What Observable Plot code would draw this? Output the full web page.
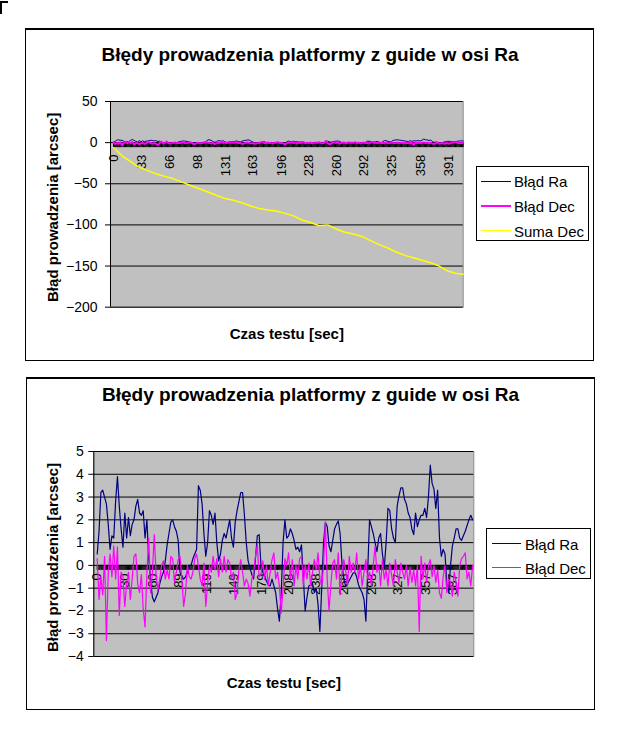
<!DOCTYPE html>
<html>
<head>
<meta charset="utf-8">
<script src="https://cdn.jsdelivr.net/npm/d3@7"></script>
<script src="https://cdn.jsdelivr.net/npm/@observablehq/plot@0.6"></script>
<style>
  body { margin: 0; background: #fff; font-family: "Liberation Sans", Arial, sans-serif; }
  #page { position: relative; width: 626px; height: 733px; overflow: hidden; background: #fff; }
  .box { position: absolute; border: 1px solid #000; border-top-width: 2px; box-sizing: border-box; background: #fff; }
  .title { position: absolute; font-weight: bold; font-size: 19px; white-space: nowrap; transform: translate(-50%, -50%); color: #000; }
  .legend { position: absolute; border: 1px solid #000; background: #fff; box-sizing: border-box; z-index: 3; }
  .legend .ln { position: absolute; height: 0; }
  .legend .tx { position: absolute; font-size: 15px; white-space: nowrap; transform: translateY(-50%); color: #000; }
  .plotwrap { position: absolute; z-index: 2; }
  .corner { position: absolute; left: 0; top: 1px; width: 6px; height: 11px; border-left: 2px solid #000; border-top: 2px solid #000; }
</style>
</head>
<body>
<div id="page"></div>
<script>
// ---------------- data ----------------
const categories = d3.range(0, 409);          // category positions (seconds) for the dense tick band
const time = d3.range(0, 409, 2);              // sample times of the error series [sec]

const bladRa = [
  0.5, 1.5, 3.2, 3.3, 3.0, 2.7, 1.8, 0.7, 1.3, 1.2,
  2.8, 3.9, 2.6, 1.6, 0.8, 2.3, 1.2, 2.1, 1.3, 1.8,
  2.0, 2.6, 2.9, 2.3, 2.2, 2.4, 1.2, 2.0, 0.3, -0.6,
  -1.4, -1.6, -1.4, -1.2, -0.8, -0.5, -0.3, 0.2, 0.9, 1.4,
  1.9, 2.0, 1.7, 1.5, 1.1, -0.3, -0.5, -0.6, -0.5, -0.3,
  0.0, 0.0, 0.3, 0.5, 0.7, 3.5, 3.3, 2.7, 1.4, 0.4,
  1.0, 2.4, 2.2, 1.8, 2.3, 1.0, 0.2, 0.5, 1.1, 1.4,
  1.2, 1.6, 2.0, 1.2, 0.8, 1.9, 2.4, 2.8, 3.2, 3.2,
  2.2, 1.0, 0.2, -0.1, -0.4, -0.6, 0.3, 1.3, 1.35,
  0.0, -0.3, -0.5, -0.7, -0.85, -0.9, -0.6, -0.9, -1.2, -1.9,
  -2.45, -1.2, 1.0, 2.0, 1.2, 1.3, 1.6, 1.4, 1.1, 0.7,
  0.8, 0.6, 0.9, -0.5, -2.0, -1.4, -0.9, -0.85, -0.8, -1.2,
  -1.0, -1.7, -2.9, -1.0, 1.0, 1.9, 1.7, 0.85, 0.6, 1.1,
  1.6, 1.8, 1.95, 1.4, 0.1, -0.6, -0.9, -0.8, -0.65, -0.5,
  -0.35, -0.3, -0.5, -0.85, -1.05, -1.2, -1.5, -2.45, -0.2, 2.0,
  1.7, 1.4, 1.0, 0.6, 1.2, 1.4, 0.5, -0.1, 1.0, 2.5,
  2.4, 1.6, 1.2, 1.0, 2.6, 3.05, 3.4, 3.4, 2.9, 2.7,
  2.3, 2.1, 1.6, 1.35, 2.3, 1.7, 2.0, 2.2, 2.2, 2.5,
  2.1, 3.0, 4.4, 3.6, 3.35, 2.5, 3.3, 1.2, 0.4, 0.7,
  0.5, -0.8, -1.2, 0.0, 0.85, 1.2, 1.6, 1.6, 1.2, 1.1,
  1.3, 1.5, 1.75, 2.0, 2.2, 2.0
];

const bladDec = [
  0.3, -1.5, -0.5, -1.3, 0.4, -3.3, -0.3, 0.5, -0.5, 0.85,
  -0.6, 0.8, -2.2, -0.3, -0.5, -1.8, -0.8, -0.3, -1.5, -0.6,
  0.4, 0.5, -0.8, -1.2, -0.4, -1.9, -2.7, -0.3, 1.2, -1.2,
  -0.3, 1.35, -0.4, -1.1, -0.6, 0.0, 0.2, -0.6, -0.2, -0.6,
  0.4, 0.3, -0.75, -0.3, 0.25, 0.4, -0.6, -1.8, -1.2, 0.0,
  -0.5, -0.6, -0.3, 0.3, 0.5, 0.0, -0.6, -0.9, 0.1, -1.8,
  -0.8, 0.0, -0.3, 0.4, -0.2, 0.3, -0.5, 0.3, -0.3, 0.4,
  -0.3, 0.25, 0.1, -0.6, -0.3, -1.5, -1.2, -0.2, 0.25, -0.3,
  -0.9, -0.6, -0.8, -1.35, -0.6, -0.3, 0.4, 0.9, -0.5,
  -0.4, 0.2, -0.6, 0.0, -0.9, -0.3, 0.25, 0.55, -0.6, -0.3,
  -0.9, -2.1, -1.0, 0.3, 0.0, 0.55, -0.6, 0.25, -0.9, 0.0,
  -0.6, 0.3, 0.4, -0.9, 0.0, -0.6, 0.1, -0.9, -0.3, 0.25,
  -0.2, 0.55, -0.6, -0.9, 0.0, 1.9, -0.6, -2.0, -0.8, 0.1,
  0.25, -0.6, 0.55, -1.3, -0.3, 0.25, -0.2, -0.9, 0.4, -0.3,
  0.1, -0.3, 0.55, -0.6, 0.0, -0.9, -0.3, 0.25, -0.6, -0.3,
  -0.9, 0.0, 0.85, -0.3, 0.0, -0.9, 0.25, -0.6, -0.2, -0.9,
  0.1, -0.45, -0.9, 0.25, -0.3, -0.75, 0.1, -0.3, -0.6, 0.0,
  -0.9, -0.1, -0.75, -0.2, -0.9, 0.0, -2.9, 0.4, -0.6, 0.1,
  -0.75, 0.0, 0.25, -0.5, 0.0, -0.75, -0.2, -1.2, -1.45, -0.5,
  0.0, -1.2, -0.6, -0.75, -1.35, -0.3, -0.75, -1.35, 0.0, 0.3,
  0.4, 0.55, -0.6, -0.3, -0.9, 0.0
];

const sumaTime = [0, 10, 20, 30, 40, 50, 60, 70, 80, 90, 100, 110, 120, 130, 140, 150, 160, 170, 180, 190,
  200, 210, 220, 230, 240, 250, 260, 270, 280, 290, 300, 310, 320, 330, 340, 350, 360, 370, 380, 390, 400, 408];
const sumaDec = [-6, -16, -23, -30, -34, -38, -41, -44, -48, -52, -56, -60, -64, -68, -70, -73, -77, -80, -82, -83,
  -86, -89, -94, -97, -101, -100, -105, -109, -111, -114, -119, -124, -128, -133, -137, -140, -143, -146, -150, -156, -159, -160];

const xLabelsTop = [0, 33, 66, 98, 131, 163, 196, 228, 260, 292, 325, 358, 391];
const xLabelsBottom = [0, 30, 60, 89, 119, 149, 179, 208, 238, 268, 298, 327, 357, 387];
const yTicksTop = [-200, -150, -100, -50, 0, 50];
const yTicksBottom = [-4, -3, -2, -1, 0, 1, 2, 3, 4, 5];
const axisCrossing = 0;

const chartTitle = "Błędy prowadzenia platformy z guide w osi Ra";
const yTitle = "Błąd prowadzenia [arcsec]";
const xTitle = "Czas testu [sec]";
const seriesNames = ["Błąd Ra", "Błąd Dec", "Suma Dec"];
const seriesColors = ["#000080", "#ff00ff", "#ffff00"];

// ---------------- tables ----------------
const raRows = time.map((t, i) => ({t, v: bladRa[i]}));
const decRows = time.map((t, i) => ({t, v: bladDec[i]}));
const sumaRows = sumaTime.map((t, i) => ({t, v: sumaDec[i]}));

const page = document.getElementById("page");

function el(tag, cls, css, text) {
  const e = document.createElement(tag);
  if (cls) e.className = cls;
  Object.assign(e.style, css || {});
  if (text != null) e.textContent = text;
  return e;
}

page.appendChild(el("div", "corner"));

function makeChart(cfg) {
  const box = el("div", "box", {left: cfg.box[0] + "px", top: cfg.box[1] + "px", width: cfg.box[2] + "px", height: cfg.box[3] + "px"});
  page.appendChild(box);
  page.appendChild(el("div", "title", {left: cfg.titlePos[0] + "px", top: cfg.titlePos[1] + "px"}, chartTitle));

  const marks = [
    Plot.frame({fill: "#c0c0c0", stroke: "#8c8c8c"}),
    Plot.gridY(cfg.yTicks, {stroke: "#000", strokeOpacity: 1}),
    Plot.ruleX([cfg.xDomain[0]], {stroke: "#000"}),
    Plot.axisY(cfg.yTicks, {tickSize: 5, tickPadding: cfg.tickPad, fontSize: 14, label: null}),
    Plot.ruleX(categories, {x: d => d, y1: axisCrossing, y2: axisCrossing, insetBottom: -5, stroke: "#000", strokeWidth: 1}),
    Plot.text(cfg.xLabels, {x: d => d, y: axisCrossing, text: d => String(d), rotate: -90, textAnchor: "end", dy: cfg.labelDy, fontSize: 13, fill: "#000"}),
    ...cfg.lines.map(l => Plot.line(l.rows, {x: "t", y: "v", stroke: l.color, strokeWidth: l.width})),
    Plot.text([yTitle], {text: d => d, frameAnchor: "left", textAnchor: "middle", lineAnchor: "middle", rotate: -90, dx: cfg.yTitleDx, dy: cfg.yTitleDy, fontSize: 15, fontWeight: "bold", fill: "#000"}),
    Plot.text([xTitle], {text: d => d, frameAnchor: "bottom", textAnchor: "middle", lineAnchor: "middle", dy: cfg.xTitleDy, fontSize: 15, fontWeight: "bold", fill: "#000"})
  ];

  const svg = Plot.plot({
    width: cfg.size[0], height: cfg.size[1],
    marginLeft: cfg.margins[0], marginTop: cfg.margins[1], marginRight: cfg.margins[2], marginBottom: cfg.margins[3],
    style: {background: "transparent", overflow: "visible", fontFamily: "'Liberation Sans', Arial, sans-serif", color: "#000"},
    x: {domain: cfg.xDomain, axis: null},
    y: {domain: cfg.yDomain},
    marks
  });
  const wrap = el("div", "plotwrap", {left: cfg.svgPos[0] + "px", top: cfg.svgPos[1] + "px"});
  wrap.appendChild(svg);
  page.appendChild(wrap);

  const lg = el("div", "legend", {left: cfg.legend.box[0] + "px", top: cfg.legend.box[1] + "px", width: cfg.legend.box[2] + "px", height: cfg.legend.box[3] + "px"});
  cfg.lines.forEach((l, i) => {
    const y = cfg.legend.rows[i];
    lg.appendChild(el("div", "ln", {left: cfg.legend.lineX[0] + "px", width: (cfg.legend.lineX[1] - cfg.legend.lineX[0]) + "px",
      top: (y - l.width / 2) + "px", borderTop: l.width + "px solid " + l.color}));
    lg.appendChild(el("div", "tx", {left: cfg.legend.textX + "px", top: y + "px"}, l.name));
  });
  page.appendChild(lg);
}

makeChart({
  box: [25, 28, 569, 333],
  titlePos: [310, 55],
  svgPos: [30, 90],
  size: [460, 260],
  margins: [80, 11, 27.3, 43.3],
  xDomain: [-3.5, 408],
  yDomain: [-200, 50],
  yTicks: yTicksTop,
  xLabels: xLabelsTop,
  tickPad: 8,
  labelDy: 12,
  yTitleDx: -57, yTitleDy: 3,
  xTitleDy: 27,
  lines: [
    {rows: raRows, color: seriesColors[0], width: 1, name: seriesNames[0]},
    {rows: decRows, color: seriesColors[1], width: 2, name: seriesNames[1]},
    {rows: sumaRows, color: seriesColors[2], width: 1.5, name: seriesNames[2]}
  ],
  legend: {box: [476, 166, 113, 75], rows: [14, 39, 64], lineX: [4, 34], textX: 37}
});

makeChart({
  box: [26, 377, 569, 333],
  titlePos: [310.5, 395],
  svgPos: [30, 440],
  size: [460, 260],
  margins: [63.3, 11, 16.7, 44],
  xDomain: [-3.7, 409.3],
  yDomain: [-4, 5],
  yTicks: yTicksBottom,
  xLabels: xLabelsBottom,
  tickPad: 5,
  labelDy: 8,
  yTitleDx: -40.3, yTitleDy: 3.5,
  xTitleDy: 26.7,
  lines: [
    {rows: raRows, color: seriesColors[0], width: 1.2, name: seriesNames[0]},
    {rows: decRows, color: seriesColors[1], width: 1.2, name: seriesNames[1]}
  ],
  legend: {box: [486, 528, 105, 51], rows: [14.7, 38.7], lineX: [4.7, 34], textX: 38}
});
</script>
</body>
</html>
